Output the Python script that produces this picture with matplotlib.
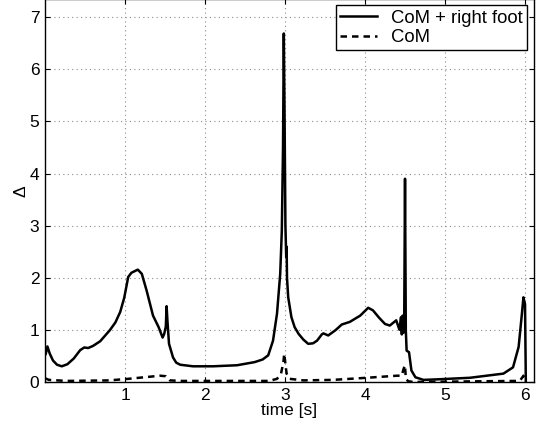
"""
Delta over time for CoM + right foot vs CoM only.

Writes out.png (539x432).
"""

import matplotlib

matplotlib.use("Agg")

import matplotlib.pyplot as plt
import numpy as np

# CoM + right foot (solid)
time_foot = [
	0.00, 0.01, 0.03, 0.06, 0.10, 0.15, 0.21, 0.28, 0.36, 0.44,
	0.49, 0.54, 0.60, 0.69, 0.81, 0.88, 0.94, 0.99, 1.04, 1.08,
	1.12, 1.16, 1.21, 1.27, 1.35, 1.42, 1.47, 1.49, 1.51, 1.52,
	1.53, 1.55, 1.60, 1.64, 1.69, 1.85, 2.10, 2.40, 2.62, 2.72,
	2.79, 2.85, 2.90, 2.94, 2.96, 2.975, 2.985, 2.995, 3.005, 3.015,
	3.02, 3.025, 3.04, 3.08, 3.12, 3.17, 3.23, 3.29, 3.35, 3.40,
	3.46, 3.48, 3.54, 3.63, 3.71, 3.81, 3.94, 4.04, 4.10, 4.17,
	4.25, 4.31, 4.39, 4.43, 4.45, 4.46, 4.47, 4.48, 4.49, 4.50,
	4.51, 4.52, 4.55, 4.58, 4.63, 4.73, 4.90, 5.31, 5.73, 5.85,
	5.92, 5.96, 5.98, 6.00, 6.01,
]
delta_foot = [
	0.52, 0.55, 0.69, 0.55, 0.42, 0.34, 0.31, 0.35, 0.46, 0.62,
	0.67, 0.66, 0.70, 0.79, 1.00, 1.15, 1.35, 1.62, 2.02, 2.10,
	2.13, 2.16, 2.08, 1.76, 1.28, 1.06, 0.86, 0.93, 1.07, 1.46,
	1.19, 0.74, 0.48, 0.38, 0.34, 0.31, 0.31, 0.33, 0.39, 0.44,
	0.52, 0.80, 1.32, 2.08, 2.90, 4.50, 6.68, 5.00, 3.00, 2.40,
	2.60, 2.00, 1.63, 1.25, 1.06, 0.93, 0.82, 0.74, 0.75, 0.80,
	0.92, 0.94, 0.90, 1.00, 1.11, 1.16, 1.28, 1.43, 1.38, 1.25,
	1.12, 1.09, 1.19, 1.01, 1.25, 0.92, 1.28, 0.95, 1.20, 3.90,
	1.00, 0.61, 0.58, 0.23, 0.10, 0.05, 0.06, 0.09, 0.17, 0.29,
	0.68, 1.30, 1.63, 1.50, 0.02,
]

# CoM only (dashed)
time_com = [
	0.00, 0.05, 0.27, 0.80, 1.04, 1.44, 1.51, 1.56, 1.70, 2.80,
	2.90, 2.95, 2.98, 2.99, 3.01, 3.02, 3.06, 3.23, 3.60, 4.02,
	4.40, 4.46, 4.48, 4.50, 4.51, 4.54, 4.60, 5.90, 5.94, 5.98,
	6.00,
]
delta_com = [
	0.08, 0.05, 0.03, 0.04, 0.07, 0.13, 0.12, 0.04, 0.03, 0.03,
	0.07, 0.17, 0.39, 0.55, 0.29, 0.17, 0.07, 0.04, 0.05, 0.09,
	0.13, 0.13, 0.25, 0.33, 0.07, 0.025, 0.01, 0.03, 0.04, 0.13,
	0.00,
]

x_ticks = [1, 2, 3, 4, 5, 6]
y_ticks = [0, 1, 2, 3, 4, 5, 6, 7]


def main():
	plt.rcParams["font.family"] = ["Liberation Sans", "DejaVu Sans"]

	fig = plt.figure(figsize=(5.39, 4.32), dpi=100)
	ax = fig.add_axes([0.0835, 0.1146, 0.9063, 0.8877])

	ax.plot(time_foot, delta_foot, color="black", linewidth=1.8, label="CoM + right foot")
	ax.plot(
		time_com,
		delta_com,
		color="black",
		linewidth=1.8,
		linestyle=(0, (2.6, 2.0)),
		label="CoM",
	)

	ax.set_xlim(0, 6.106)
	ax.set_ylim(0, 7.34)
	ax.set_xticks(x_ticks)
	ax.set_yticks(y_ticks)

	ax.grid(True, color="0.55", linestyle=(0, (1, 3)), linewidth=0.8)
	ax.tick_params(
		direction="in",
		top=True,
		right=True,
		length=3.5,
		width=0.8,
		labelsize=12.5,
		pad=4,
	)
	for spine in ax.spines.values():
		spine.set_linewidth(1.0)

	ax.set_xlabel("time [s]", fontsize=12.5, labelpad=0)
	ax.set_ylabel("Δ", fontsize=12.5, labelpad=1)

	leg = ax.legend(
		loc="upper right",
		fontsize=13.3,
		frameon=True,
		fancybox=False,
		framealpha=1.0,
		borderaxespad=0.35,
		borderpad=0.22,
		labelspacing=0.15,
		handlelength=2.0,
		handletextpad=0.75,
	)
	leg.get_frame().set_edgecolor("black")
	leg.get_frame().set_linewidth(1.0)

	fig.savefig("out.png", dpi=100)
	plt.close(fig)


if __name__ == "__main__":
	main()
